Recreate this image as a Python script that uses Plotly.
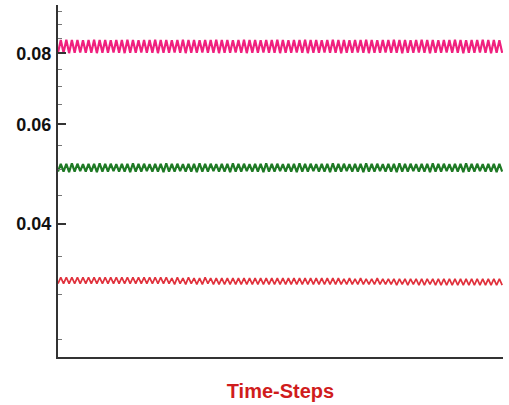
import plotly.graph_objects as go

# Time-step index (alternating crest / trough samples)
time_steps = list(range(161))

# Pink series: crests and troughs
pink_hi = [0.0845, 0.0846, 0.0845, 0.0845, 0.0844, 0.0845, 0.0846, 0.0845, 0.0845, 0.0844,
           0.0845, 0.0845, 0.0846, 0.0845, 0.0844, 0.0845, 0.0845, 0.0846, 0.0845, 0.0845,
           0.0844, 0.0845, 0.0846, 0.0845, 0.0845, 0.0844, 0.0845, 0.0845, 0.0846, 0.0845,
           0.0845, 0.0844, 0.0845, 0.0846, 0.0845, 0.0845, 0.0844, 0.0845, 0.0845, 0.0846,
           0.0845, 0.0844, 0.0845, 0.0845, 0.0846, 0.0845, 0.0845, 0.0844, 0.0845, 0.0846,
           0.0845, 0.0845, 0.0844, 0.0845, 0.0845, 0.0846, 0.0845, 0.0844, 0.0845, 0.0845,
           0.0846, 0.0845, 0.0845, 0.0844, 0.0845, 0.0846, 0.0845, 0.0845, 0.0844, 0.0845,
           0.0845, 0.0846, 0.0845, 0.0844, 0.0845, 0.0845, 0.0846, 0.0845, 0.0845, 0.0844]
pink_lo = [0.0802, 0.0802, 0.0801, 0.0802, 0.0803, 0.0802, 0.0802, 0.0801, 0.0802, 0.0802,
           0.0803, 0.0802, 0.0801, 0.0802, 0.0802, 0.0803, 0.0802, 0.0802, 0.0801, 0.0802,
           0.0802, 0.0803, 0.0802, 0.0801, 0.0802, 0.0802, 0.0803, 0.0802, 0.0802, 0.0801,
           0.0802, 0.0802, 0.0803, 0.0802, 0.0801, 0.0802, 0.0802, 0.0803, 0.0802, 0.0802,
           0.0801, 0.0802, 0.0802, 0.0803, 0.0802, 0.0801, 0.0802, 0.0802, 0.0803, 0.0802,
           0.0802, 0.0801, 0.0802, 0.0802, 0.0803, 0.0802, 0.0801, 0.0802, 0.0802, 0.0803,
           0.0802, 0.0802, 0.0801, 0.0802, 0.0802, 0.0803, 0.0802, 0.0801, 0.0802, 0.0802,
           0.0803, 0.0802, 0.0802, 0.0801, 0.0802, 0.0802, 0.0803, 0.0802, 0.0801, 0.0802,
           0.0802]

# Green series
green_hi = [0.0511, 0.0511, 0.0512, 0.0511, 0.0510, 0.0511, 0.0511, 0.0512, 0.0511, 0.0511,
            0.0510, 0.0511, 0.0511, 0.0512, 0.0511, 0.0511, 0.0510, 0.0511, 0.0511, 0.0512,
            0.0511, 0.0511, 0.0510, 0.0511, 0.0511, 0.0512, 0.0511, 0.0511, 0.0510, 0.0511,
            0.0511, 0.0512, 0.0511, 0.0511, 0.0510, 0.0511, 0.0511, 0.0512, 0.0511, 0.0511,
            0.0510, 0.0511, 0.0511, 0.0512, 0.0511, 0.0511, 0.0510, 0.0511, 0.0511, 0.0512,
            0.0511, 0.0511, 0.0510, 0.0511, 0.0511, 0.0512, 0.0511, 0.0511, 0.0510, 0.0511,
            0.0511, 0.0512, 0.0511, 0.0511, 0.0510, 0.0511, 0.0511, 0.0512, 0.0511, 0.0511,
            0.0510, 0.0511, 0.0511, 0.0512, 0.0511, 0.0511, 0.0510, 0.0511, 0.0511, 0.0511]
green_lo = [0.0495, 0.0495, 0.0494, 0.0495, 0.0496, 0.0495, 0.0495, 0.0494, 0.0495, 0.0495,
            0.0496, 0.0495, 0.0495, 0.0494, 0.0495, 0.0495, 0.0496, 0.0495, 0.0495, 0.0494,
            0.0495, 0.0495, 0.0496, 0.0495, 0.0495, 0.0494, 0.0495, 0.0495, 0.0496, 0.0495,
            0.0495, 0.0494, 0.0495, 0.0495, 0.0496, 0.0495, 0.0495, 0.0494, 0.0495, 0.0495,
            0.0496, 0.0495, 0.0495, 0.0494, 0.0495, 0.0495, 0.0496, 0.0495, 0.0495, 0.0494,
            0.0495, 0.0495, 0.0496, 0.0495, 0.0495, 0.0494, 0.0495, 0.0495, 0.0496, 0.0495,
            0.0495, 0.0494, 0.0495, 0.0495, 0.0496, 0.0495, 0.0495, 0.0494, 0.0495, 0.0495,
            0.0496, 0.0495, 0.0495, 0.0494, 0.0495, 0.0495, 0.0496, 0.0495, 0.0495, 0.0494,
            0.0495]

# Red series
red_hi = [0.0322, 0.0322, 0.0322, 0.0322, 0.0322, 0.0322, 0.0322, 0.0322, 0.0322, 0.0322,
          0.0322, 0.0322, 0.0322, 0.0322, 0.0322, 0.0322, 0.0322, 0.0322, 0.0322, 0.0322,
          0.0321, 0.0322, 0.0321, 0.0322, 0.0321, 0.0321, 0.0322, 0.0321, 0.0321, 0.0321,
          0.0321, 0.0321, 0.0321, 0.0321, 0.0321, 0.0321, 0.0321, 0.0321, 0.0321, 0.0321,
          0.0321, 0.0321, 0.0321, 0.0321, 0.0321, 0.0321, 0.0321, 0.0321, 0.0321, 0.0321,
          0.0321, 0.0320, 0.0321, 0.0320, 0.0321, 0.0320, 0.0320, 0.0321, 0.0320, 0.0320,
          0.0320, 0.0320, 0.0320, 0.0320, 0.0320, 0.0320, 0.0320, 0.0320, 0.0320, 0.0320,
          0.0320, 0.0320, 0.0320, 0.0320, 0.0320, 0.0320, 0.0320, 0.0320, 0.0320, 0.0320]
red_lo = [0.0314, 0.0314, 0.0314, 0.0314, 0.0314, 0.0314, 0.0314, 0.0314, 0.0314, 0.0314,
          0.0314, 0.0314, 0.0314, 0.0314, 0.0314, 0.0314, 0.0314, 0.0314, 0.0314, 0.0314,
          0.0314, 0.0313, 0.0314, 0.0313, 0.0314, 0.0313, 0.0313, 0.0314, 0.0313, 0.0313,
          0.0313, 0.0313, 0.0313, 0.0313, 0.0313, 0.0313, 0.0313, 0.0313, 0.0313, 0.0313,
          0.0313, 0.0313, 0.0313, 0.0313, 0.0313, 0.0313, 0.0313, 0.0313, 0.0313, 0.0313,
          0.0313, 0.0313, 0.0313, 0.0313, 0.0313, 0.0313, 0.0313, 0.0313, 0.0313, 0.0313,
          0.0313, 0.0312, 0.0313, 0.0312, 0.0313, 0.0312, 0.0312, 0.0313, 0.0312, 0.0312,
          0.0312, 0.0312, 0.0312, 0.0312, 0.0312, 0.0312, 0.0312, 0.0312, 0.0312, 0.0312,
          0.0312]

y_tick_vals = [0.04, 0.06, 0.08]
y_tick_text = ["0.04", "0.06", "0.08"]
y_minor_vals = [0.025, 0.03, 0.035, 0.045, 0.05, 0.055, 0.065, 0.07, 0.075,
                0.085, 0.09, 0.095]
x_title = "Time-Steps"


def interleave(lo, hi):
    out = []
    for i, v in enumerate(lo):
        out.append(v)
        if i < len(hi):
            out.append(hi[i])
    return out


series = [
    (interleave(pink_lo, pink_hi), "#f0207e", 2.2),
    (interleave(green_lo, green_hi), "#1f7a25", 2.2),
    (interleave(red_lo, red_hi), "#e0313c", 1.7),
]

fig = go.Figure()
for vals, color, w in series:
    fig.add_trace(go.Scatter(x=time_steps[:len(vals)], y=vals, mode="lines",
                             line=dict(color=color, width=w),
                             showlegend=False, hoverinfo="skip"))

fig.update_layout(
    width=509, height=405,
    margin=dict(l=58, r=6, t=5, b=48),
    paper_bgcolor="white", plot_bgcolor="white",
    font=dict(family="Liberation Sans, Arial, sans-serif", color="black"),
    xaxis=dict(
        range=[0, 160.3], showgrid=False, zeroline=False,
        showline=True, linecolor="#333333", linewidth=2,
        showticklabels=False, ticks="",
        title=dict(text=f"<b>{x_title}</b>", standoff=26,
                   font=dict(size=20, color="#d01c1c")),
    ),
    yaxis=dict(
        type="log", range=[-1.6326, -1.0114],
        showgrid=False, zeroline=False,
        showline=True, linecolor="#333333", linewidth=2,
        tickmode="array", tickvals=y_tick_vals,
        ticktext=[f"<b>{t}</b>" for t in y_tick_text],
        ticks="inside", ticklen=8, tickwidth=2, tickcolor="#333333",
        tickfont=dict(size=18, color="#111111"),
        ticklabelstandoff=1,
        minor=dict(tickmode="array", tickvals=y_minor_vals,
                   ticks="inside", ticklen=4, tickwidth=1,
                   tickcolor="#777777", showgrid=False),
    ),
)

fig.write_html("out.html")
